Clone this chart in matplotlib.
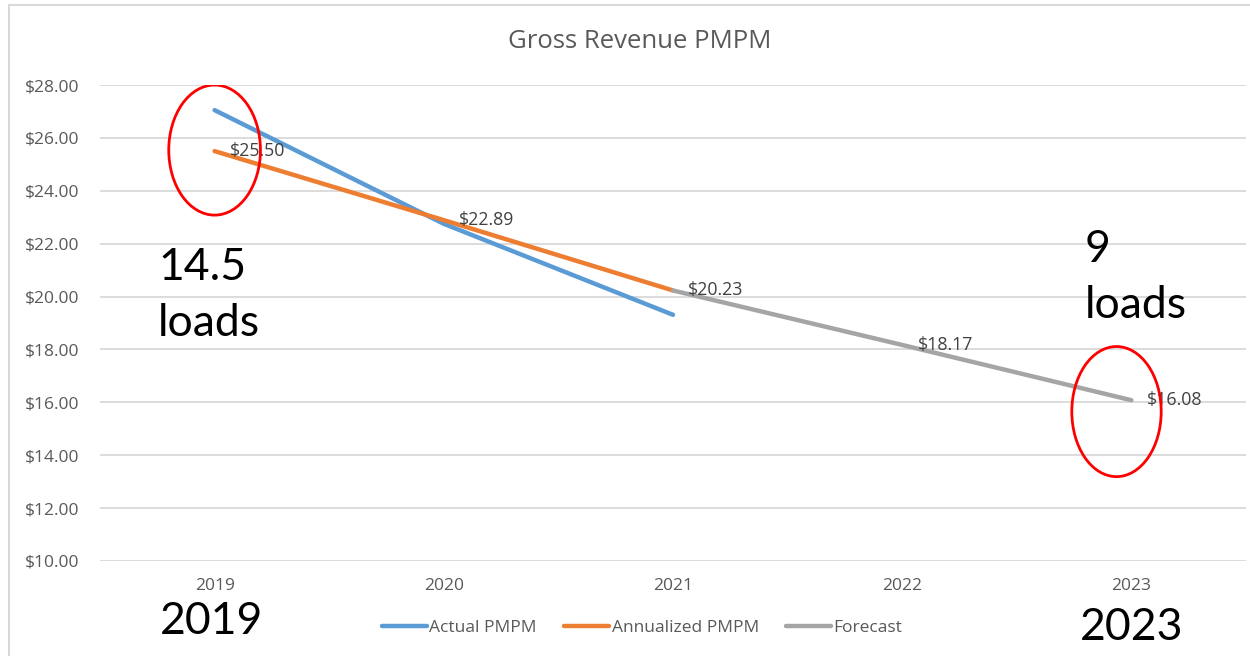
import matplotlib.pyplot as plt
import numpy as np
from matplotlib.patches import Ellipse
from matplotlib.lines import Line2D
from matplotlib.ticker import FuncFormatter

years = ['2019', '2020', '2021', '2022', '2023']
actual = [27.05, 22.75, 19.31, np.nan, np.nan]
annualized = [25.50, 22.89, 20.23, np.nan, np.nan]
forecast = [np.nan, np.nan, 20.23, 18.17, 16.08]

# which points get a data label: (series values, index)
label_points = [(annualized, 0), (annualized, 1), (annualized, 2),
                (forecast, 3), (forecast, 4)]

W, H = 1250, 656
fig = plt.figure(figsize=(W / 100, H / 100), dpi=100)
ax = fig.add_axes([100 / W, 1 - 561 / H, 1146 / W, 476 / H])

chart_font = 'Open Sans'
big_font = 'Lato'
grey_text = '#595959'

x = np.arange(len(years))
ax.plot(x, actual, color='#5B9BD5', lw=3.2, solid_capstyle='round', label='Actual PMPM', zorder=3)
ax.plot(x, annualized, color='#ED7D31', lw=3.2, solid_capstyle='round', label='Annualized PMPM', zorder=4)
ax.plot(x, forecast, color='#A5A5A5', lw=3.2, solid_capstyle='round', label='Forecast', zorder=5)

for series, i in label_points:
    ax.annotate('$%.2f' % series[i], (x[i], series[i]), xytext=(11, 0),
                textcoords='offset points', ha='left', va='center',
                fontsize=12.8, color='#404040', family=chart_font, zorder=6)

ax.set_xlim(-0.5, 4.5)
ax.set_ylim(10, 28)
ax.set_yticks(np.arange(10, 29, 2))
ax.yaxis.set_major_formatter(FuncFormatter(lambda v, p: '$%.2f' % v))
ax.set_xticks(x)
ax.set_xticklabels(years)
ax.grid(axis='y', color='#D9D9D9', lw=1.3)
ax.set_axisbelow(True)
for s in ax.spines.values():
    s.set_visible(False)
ax.tick_params(length=0, colors=grey_text, labelsize=12.5)
ax.tick_params(axis='y', pad=15)
ax.tick_params(axis='x', pad=12)
for t in ax.get_xticklabels() + ax.get_yticklabels():
    t.set_family(chart_font)

fig.text(640 / W, 1 - 42 / H, 'Gross Revenue PMPM', ha='center', va='center',
         fontsize=18.5, color=grey_text, family=chart_font)

leg = fig.legend(loc='center', bbox_to_anchor=(642 / W, 1 - 628 / H), ncol=3,
                 frameon=False, handlelength=2.6, handletextpad=0.15,
                 columnspacing=1.55, prop={'family': chart_font, 'size': 12.5})
for t in leg.get_texts():
    t.set_color(grey_text)

# red callout ellipses
ax.add_patch(Ellipse((0, 25.54), 0.40, 4.92, fill=False, ec='red', lw=2, zorder=7))
ax.add_patch(Ellipse((3.935, 15.65), 0.39, 4.92, fill=False, ec='red', lw=2, zorder=7))

# big black annotations
big = dict(fontsize=32, color='black', family=big_font, va='center', ha='left')
fig.text(158 / W, 1 - 267 / H, '14.5', **big)
fig.text(158 / W, 1 - 323 / H, 'loads', **big)
fig.text(1085 / W, 1 - 250 / H, '9', **big)
fig.text(1085 / W, 1 - 305 / H, 'loads', **big)
fig.text(160 / W, 1 - 622 / H, '2019', **big)
fig.text(1080 / W, 1 - 627 / H, '2023', **big)

# chart border (top and left only visible)
fig.add_artist(Line2D([9 / W, 1], [1 - 5 / H, 1 - 5 / H], color='#D9D9D9', lw=1.5))
fig.add_artist(Line2D([9 / W, 9 / W], [0, 1 - 5 / H], color='#D9D9D9', lw=1.5))

fig.savefig('out.png', dpi=100)
